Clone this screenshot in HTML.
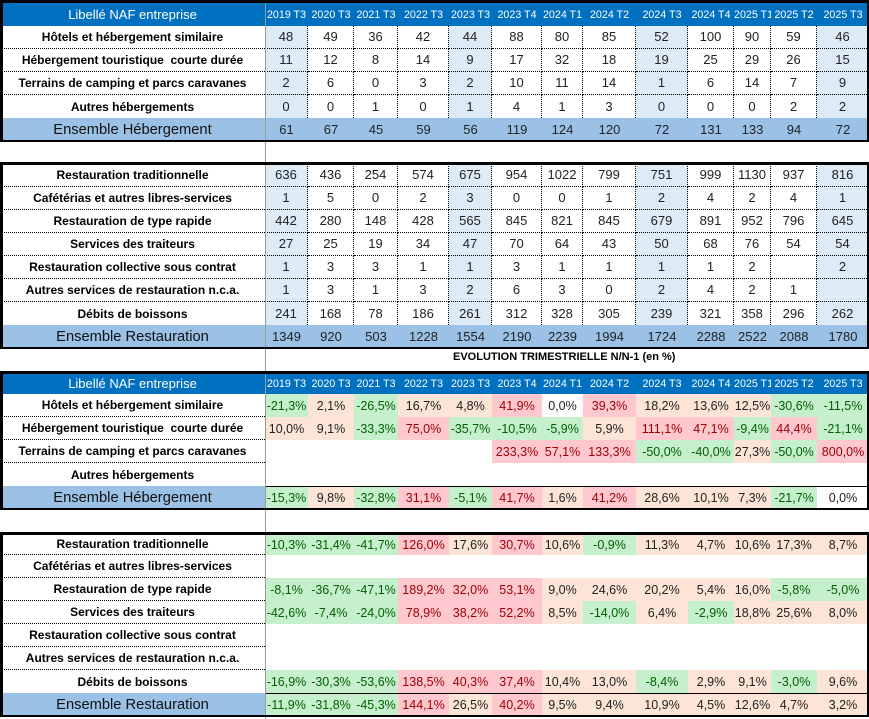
<!DOCTYPE html>
<html><head><meta charset="utf-8"><style>
body{margin:0;width:869px;height:719px;position:relative;background:#fff;font-family:"Liberation Sans",Arial,sans-serif;overflow:hidden}
table.t{position:absolute;left:0;border-collapse:separate;border-spacing:0;table-layout:fixed;width:869px}
.t td{padding:0;text-align:center;white-space:nowrap;overflow:hidden;vertical-align:middle;line-height:14px}
.q td{font-size:12.5px;color:#222}
.q td.l{font-size:12px;color:#000}
.q td.l0{font-size:12px;color:#000}
.t .h td{background:#0070c0;color:#fff;font-size:10.7px}
.t .h td.hl{font-size:13px}
.t .h1 td{padding-top:3px}
td.l{font-weight:bold;font-size:12px;color:#000;border-bottom:1px dotted #000}
td.l0{font-weight:bold;font-size:12px;color:#000}
td.n{font-size:13px;color:#222;border-right:1px dotted #000;border-bottom:1px dotted #000}
td.n0{font-size:13px;color:#222;border-right:1px dotted #000}
td.b{background:#ddebf7}
.e td{background:#9bc2e6;font-size:13px;color:#222}
.t td.el{background:#9bc2e6;font-size:14.7px;color:#111}
.et td{border-top:1px solid #000}
.et td.el{border-top:none}
.t td.g{background:#c6efce;color:#006100}
.t td.p{background:#ffc7ce;color:#9c0006}
.t td.o{background:#fce4d6;color:#222}
.fr{position:absolute;left:0;width:869px;box-sizing:border-box;border-style:solid;border-color:#000;border-width:3px 2px 2px 3px;z-index:5}
.vl{position:absolute;left:265px;top:0;width:1px;height:719px;background:#9a9a9a;z-index:4}
.tt{position:absolute;left:453px;top:351px;font-size:11px;font-weight:bold;line-height:13px;color:#000;white-space:nowrap}
</style></head><body>
<div class="vl"></div>

<!-- Table 1 -->
<table class="t" style="top:0">
<colgroup><col style="width:265px"><col style="width:43px"><col style="width:46px"><col style="width:44px"><col style="width:51px"><col style="width:43px"><col style="width:50px"><col style="width:41px"><col style="width:53px"><col style="width:52px"><col style="width:46px"><col style="width:37px"><col style="width:46px"><col style="width:52px"></colgroup>
<tr class="h h1" style="height:26px"><td class="hl">Libellé NAF entreprise</td><td>2019 T3</td><td>2020 T3</td><td>2021 T3</td><td>2022 T3</td><td>2023 T3</td><td>2023 T4</td><td>2024 T1</td><td>2024 T2</td><td>2024 T3</td><td>2024 T4</td><td>2025 T1</td><td>2025 T2</td><td>2025 T3</td></tr>
<tr style="height:23px"><td class="l">Hôtels et hébergement similaire</td><td class="n b">48</td><td class="n">49</td><td class="n">36</td><td class="n">42</td><td class="n b">44</td><td class="n">88</td><td class="n">80</td><td class="n">85</td><td class="n b">52</td><td class="n">100</td><td class="n">90</td><td class="n">59</td><td class="n b">46</td></tr>
<tr style="height:23px"><td class="l">Hébergement touristique &nbsp;courte durée</td><td class="n b">11</td><td class="n">12</td><td class="n">8</td><td class="n">14</td><td class="n b">9</td><td class="n">17</td><td class="n">32</td><td class="n">18</td><td class="n b">19</td><td class="n">25</td><td class="n">29</td><td class="n">26</td><td class="n b">15</td></tr>
<tr style="height:23px"><td class="l">Terrains de camping et parcs caravanes</td><td class="n b">2</td><td class="n">6</td><td class="n">0</td><td class="n">3</td><td class="n b">2</td><td class="n">10</td><td class="n">11</td><td class="n">14</td><td class="n b">1</td><td class="n">6</td><td class="n">14</td><td class="n">7</td><td class="n b">9</td></tr>
<tr style="height:23px"><td class="l0">Autres hébergements</td><td class="n0 b">0</td><td class="n0">0</td><td class="n0">1</td><td class="n0">0</td><td class="n0 b">1</td><td class="n0">4</td><td class="n0">1</td><td class="n0">3</td><td class="n0 b">0</td><td class="n0">0</td><td class="n0">0</td><td class="n0">2</td><td class="n0 b">2</td></tr>
<tr class="e" style="height:23px"><td class="el">Ensemble Hébergement</td><td>61</td><td>67</td><td>45</td><td>59</td><td>56</td><td>119</td><td>124</td><td>120</td><td>72</td><td>131</td><td>133</td><td>94</td><td>72</td></tr>
</table>
<div class="fr" style="top:0;height:142px"></div>

<!-- Table 2 -->
<table class="t" style="top:162px">
<colgroup><col style="width:265px"><col style="width:43px"><col style="width:46px"><col style="width:44px"><col style="width:51px"><col style="width:43px"><col style="width:50px"><col style="width:41px"><col style="width:53px"><col style="width:52px"><col style="width:46px"><col style="width:37px"><col style="width:46px"><col style="width:52px"></colgroup>
<tr style="height:25px"><td class="l" style="padding-top:2px">Restauration traditionnelle</td><td class="n b" style="padding-top:2px">636</td><td class="n" style="padding-top:2px">436</td><td class="n" style="padding-top:2px">254</td><td class="n" style="padding-top:2px">574</td><td class="n b" style="padding-top:2px">675</td><td class="n" style="padding-top:2px">954</td><td class="n" style="padding-top:2px">1022</td><td class="n" style="padding-top:2px">799</td><td class="n b" style="padding-top:2px">751</td><td class="n" style="padding-top:2px">999</td><td class="n" style="padding-top:2px">1130</td><td class="n" style="padding-top:2px">937</td><td class="n b" style="padding-top:2px">816</td></tr>
<tr style="height:23px"><td class="l">Cafétérias et autres libres-services</td><td class="n b">1</td><td class="n">5</td><td class="n">0</td><td class="n">2</td><td class="n b">3</td><td class="n">0</td><td class="n">0</td><td class="n">1</td><td class="n b">2</td><td class="n">4</td><td class="n">2</td><td class="n">4</td><td class="n b">1</td></tr>
<tr style="height:23px"><td class="l">Restauration de type rapide</td><td class="n b">442</td><td class="n">280</td><td class="n">148</td><td class="n">428</td><td class="n b">565</td><td class="n">845</td><td class="n">821</td><td class="n">845</td><td class="n b">679</td><td class="n">891</td><td class="n">952</td><td class="n">796</td><td class="n b">645</td></tr>
<tr style="height:23px"><td class="l">Services des traiteurs</td><td class="n b">27</td><td class="n">25</td><td class="n">19</td><td class="n">34</td><td class="n b">47</td><td class="n">70</td><td class="n">64</td><td class="n">43</td><td class="n b">50</td><td class="n">68</td><td class="n">76</td><td class="n">54</td><td class="n b">54</td></tr>
<tr style="height:23px"><td class="l">Restauration collective sous contrat</td><td class="n b">1</td><td class="n">3</td><td class="n">3</td><td class="n">1</td><td class="n b">1</td><td class="n">3</td><td class="n">1</td><td class="n">1</td><td class="n b">1</td><td class="n">1</td><td class="n">2</td><td class="n"></td><td class="n b">2</td></tr>
<tr style="height:23px"><td class="l">Autres services de restauration n.c.a.</td><td class="n b">1</td><td class="n">3</td><td class="n">1</td><td class="n">3</td><td class="n b">2</td><td class="n">6</td><td class="n">3</td><td class="n">0</td><td class="n b">2</td><td class="n">4</td><td class="n">2</td><td class="n">1</td><td class="n b"></td></tr>
<tr style="height:23px"><td class="l0">Débits de boissons</td><td class="n0 b">241</td><td class="n0">168</td><td class="n0">78</td><td class="n0">186</td><td class="n0 b">261</td><td class="n0">312</td><td class="n0">328</td><td class="n0">305</td><td class="n0 b">239</td><td class="n0">321</td><td class="n0">358</td><td class="n0">296</td><td class="n0 b">262</td></tr>
<tr class="e" style="height:23px"><td class="el">Ensemble Restauration</td><td>1349</td><td>920</td><td>503</td><td>1228</td><td>1554</td><td>2190</td><td>2239</td><td>1994</td><td>1724</td><td>2288</td><td>2522</td><td>2088</td><td>1780</td></tr>
</table>
<div class="fr" style="top:162px;height:187px"></div>

<div class="tt">EVOLUTION TRIMESTRIELLE N/N-1 (en %)</div>

<!-- Table 3 -->
<table class="t q" style="top:371px">
<colgroup><col style="width:265px"><col style="width:43px"><col style="width:46px"><col style="width:44px"><col style="width:51px"><col style="width:43px"><col style="width:50px"><col style="width:41px"><col style="width:53px"><col style="width:52px"><col style="width:46px"><col style="width:37px"><col style="width:46px"><col style="width:52px"></colgroup>
<tr class="h" style="height:23px"><td class="hl" style="padding-top:2px">Libellé NAF entreprise</td><td style="padding-top:2px">2019 T3</td><td style="padding-top:2px">2020 T3</td><td style="padding-top:2px">2021 T3</td><td style="padding-top:2px">2022 T3</td><td style="padding-top:2px">2023 T3</td><td style="padding-top:2px">2023 T4</td><td style="padding-top:2px">2024 T1</td><td style="padding-top:2px">2024 T2</td><td style="padding-top:2px">2024 T3</td><td style="padding-top:2px">2024 T4</td><td style="padding-top:2px">2025 T1</td><td style="padding-top:2px">2025 T2</td><td style="padding-top:2px">2025 T3</td></tr>
<tr style="height:23px"><td class="l">Hôtels et hébergement similaire</td><td class="g">-21,3%</td><td class="o">2,1%</td><td class="g">-26,5%</td><td class="o">16,7%</td><td class="o">4,8%</td><td class="p">41,9%</td><td>0,0%</td><td class="p">39,3%</td><td class="o">18,2%</td><td class="o">13,6%</td><td class="o">12,5%</td><td class="g">-30,6%</td><td class="g">-11,5%</td></tr>
<tr style="height:23px"><td class="l">Hébergement touristique &nbsp;courte durée</td><td class="o">10,0%</td><td class="o">9,1%</td><td class="g">-33,3%</td><td class="p">75,0%</td><td class="g">-35,7%</td><td class="g">-10,5%</td><td class="g">-5,9%</td><td class="o">5,9%</td><td class="p">111,1%</td><td class="p">47,1%</td><td class="g">-9,4%</td><td class="p">44,4%</td><td class="g">-21,1%</td></tr>
<tr style="height:23px"><td class="l">Terrains de camping et parcs caravanes</td><td></td><td></td><td></td><td></td><td></td><td class="p">233,3%</td><td class="p">57,1%</td><td class="p">133,3%</td><td class="g">-50,0%</td><td class="g">-40,0%</td><td class="o">27,3%</td><td class="g">-50,0%</td><td class="p">800,0%</td></tr>
<tr style="height:23px"><td class="l0">Autres hébergements</td><td></td><td></td><td></td><td></td><td></td><td></td><td></td><td></td><td></td><td></td><td></td><td></td><td></td></tr>
<tr class="et" style="height:23px"><td class="el">Ensemble Hébergement</td><td class="g">-15,3%</td><td class="o">9,8%</td><td class="g">-32,8%</td><td class="p">31,1%</td><td class="g">-5,1%</td><td class="p">41,7%</td><td class="o">1,6%</td><td class="p">41,2%</td><td class="o">28,6%</td><td class="o">10,1%</td><td class="o">7,3%</td><td class="g">-21,7%</td><td>0,0%</td></tr>
</table>
<div class="fr" style="top:371px;height:139px"></div>

<!-- Table 4 -->
<table class="t q" style="top:532px">
<colgroup><col style="width:265px"><col style="width:43px"><col style="width:46px"><col style="width:44px"><col style="width:51px"><col style="width:43px"><col style="width:50px"><col style="width:41px"><col style="width:53px"><col style="width:52px"><col style="width:46px"><col style="width:37px"><col style="width:46px"><col style="width:52px"></colgroup>
<tr style="height:23px"><td class="l" style="padding-top:2px">Restauration traditionnelle</td><td class="g" style="padding-top:2px">-10,3%</td><td class="g" style="padding-top:2px">-31,4%</td><td class="g" style="padding-top:2px">-41,7%</td><td class="p" style="padding-top:2px">126,0%</td><td class="o" style="padding-top:2px">17,6%</td><td class="p" style="padding-top:2px">30,7%</td><td class="o" style="padding-top:2px">10,6%</td><td class="g" style="padding-top:2px">-0,9%</td><td class="o" style="padding-top:2px">11,3%</td><td class="o" style="padding-top:2px">4,7%</td><td class="o" style="padding-top:2px">10,6%</td><td class="o" style="padding-top:2px">17,3%</td><td class="o" style="padding-top:2px">8,7%</td></tr>
<tr style="height:23px"><td class="l">Cafétérias et autres libres-services</td><td></td><td></td><td></td><td></td><td></td><td></td><td></td><td></td><td></td><td></td><td></td><td></td><td></td></tr>
<tr style="height:23px"><td class="l">Restauration de type rapide</td><td class="g">-8,1%</td><td class="g">-36,7%</td><td class="g">-47,1%</td><td class="p">189,2%</td><td class="p">32,0%</td><td class="p">53,1%</td><td class="o">9,0%</td><td class="o">24,6%</td><td class="o">20,2%</td><td class="o">5,4%</td><td class="o">16,0%</td><td class="g">-5,8%</td><td class="g">-5,0%</td></tr>
<tr style="height:23px"><td class="l">Services des traiteurs</td><td class="g">-42,6%</td><td class="g">-7,4%</td><td class="g">-24,0%</td><td class="p">78,9%</td><td class="p">38,2%</td><td class="p">52,2%</td><td class="o">8,5%</td><td class="g">-14,0%</td><td class="o">6,4%</td><td class="g">-2,9%</td><td class="o">18,8%</td><td class="o">25,6%</td><td class="o">8,0%</td></tr>
<tr style="height:23px"><td class="l">Restauration collective sous contrat</td><td></td><td></td><td></td><td></td><td></td><td></td><td></td><td></td><td></td><td></td><td></td><td></td><td></td></tr>
<tr style="height:23px"><td class="l">Autres services de restauration n.c.a.</td><td></td><td></td><td></td><td></td><td></td><td></td><td></td><td></td><td></td><td></td><td></td><td></td><td></td></tr>
<tr style="height:23px"><td class="l0">Débits de boissons</td><td class="g">-16,9%</td><td class="g">-30,3%</td><td class="g">-53,6%</td><td class="p">138,5%</td><td class="p">40,3%</td><td class="p">37,4%</td><td class="o">10,4%</td><td class="o">13,0%</td><td class="g">-8,4%</td><td class="o">2,9%</td><td class="o">9,1%</td><td class="g">-3,0%</td><td class="o">9,6%</td></tr>
<tr class="et" style="height:23px"><td class="el">Ensemble Restauration</td><td class="g">-11,9%</td><td class="g">-31,8%</td><td class="g">-45,3%</td><td class="p">144,1%</td><td class="o">26,5%</td><td class="p">40,2%</td><td class="o">9,5%</td><td class="o">9,4%</td><td class="o">10,9%</td><td class="o">4,5%</td><td class="o">12,6%</td><td class="o">4,7%</td><td class="o">3,2%</td></tr>
</table>
<div class="fr" style="top:532px;height:185px"></div>
</body></html>
